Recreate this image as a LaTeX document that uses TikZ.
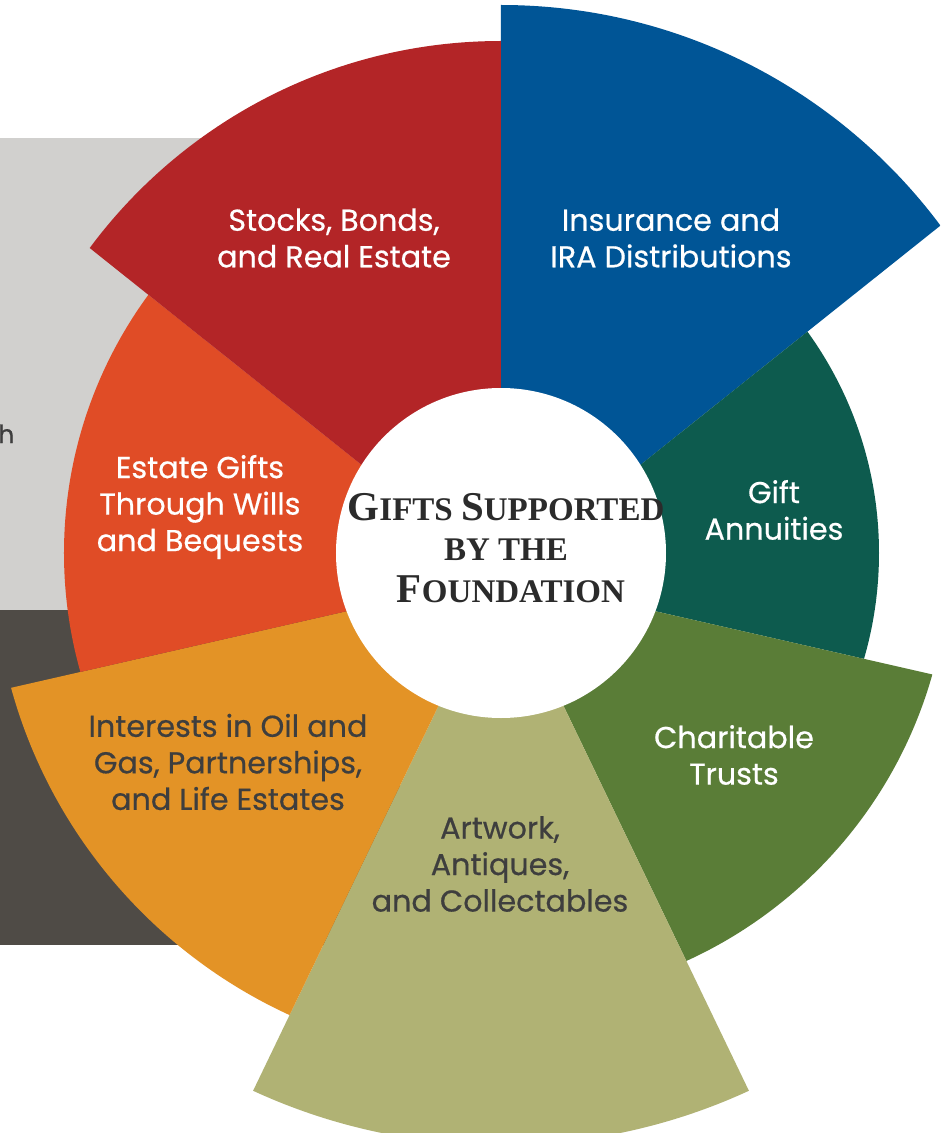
\documentclass[tikz,border=0pt]{standalone}
\usepackage{fontspec}
\setmainfont{Liberation Serif}
\newfontfamily\labelfont{Poppins}[UprightFeatures={FakeBold=0.5}]
\definecolor{cblue}{HTML}{005596}
\definecolor{cred}{HTML}{B32527}
\definecolor{cestate}{HTML}{E04C26}
\definecolor{corange}{HTML}{E39326}
\definecolor{colive}{HTML}{B0B274}
\definecolor{cgreen}{HTML}{5A7D37}
\definecolor{cdgreen}{HTML}{0D5B4E}
\definecolor{clightbg}{HTML}{D1D0CE}
\definecolor{cdarkbg}{HTML}{4F4B46}
\definecolor{ctitle}{HTML}{2B2B2B}
\definecolor{cdarktext}{HTML}{3E3E3E}
\newcommand{\gwedge}[4]{%
  \begin{scope}
    \clip (0,-23) -- +(#2:3000) -- +(#3:3000) -- cycle;
    \fill[#1] (0,0) circle[radius=#4];
  \end{scope}}
\newcommand{\tbig}{\fontsize{23.3}{26}\selectfont}
\tikzset{
  lbl/.style={align=center, inner sep=0pt, font=\labelfont\fontsize{17.2}{20.8}\selectfont},
  lblw/.style={lbl, text=white},
  lbld/.style={lbl, text=cdarktext},
  ttl/.style={anchor=base, inner sep=0pt, text=ctitle, font=\bfseries\fontsize{18.8}{22}\selectfont}
}
\begin{document}
\begin{tikzpicture}[x=0.02cm,y=0.02cm]
\useasboundingbox (-501,-580) rectangle (446,553);
\fill[white] (-501,-580) rectangle (446,553);
% background panels
\fill[clightbg] (-501,415) rectangle (-101,-57);
\fill[cdarkbg] (-501,-57) rectangle (-101,-392);
\node[anchor=base west, inner sep=0pt, text=cdarktext, font=\labelfont\fontsize{14.2}{16}\selectfont] (hfrag) at (-503,110) {h};
% wedges
\gwedge{cblue}{38.571}{90}{548}
\gwedge{cdgreen}{-12.857}{38.571}{378}
\gwedge{cgreen}{-64.286}{-12.857}{448}
\gwedge{colive}{-115.714}{-64.286}{592}
\gwedge{corange}{-167.143}{-115.714}{508}
\gwedge{cestate}{141.429}{192.857}{437}
\gwedge{cred}{90}{141.429}{512}
% centre
\fill[white] (0,0) circle[radius=165];
\node[ttl] (t1) at (5,33) {{\tbig G}IFTS {\tbig S}UPPORTED};
\node[ttl] (t2) at (5,-7) {BY THE};
\node[ttl] (t3) at (10,-49) {{\tbig F}OUNDATION};
% labels
\node[lblw] (stocks) at (-167,315) {Stocks, Bonds,\\and Real Estate};
\node[lblw] (ins) at (170,315) {Insurance and\\IRA Distributions};
\node[lblw] (annu) at (273,43) {Gift\\Annuities};
\node[lblw] (estate) at (-301,46) {Estate Gifts\\Through Wills\\and Bequests};
\node[lblw] (trusts) at (233,-202) {Charitable\\Trusts};
\node[lbld] (oil) at (-273,-209) {Interests in Oil and\\Gas, Partnerships,\\and Life Estates};
\node[lbld] (art) at (-1,-311) {Artwork,\\Antiques,\\and Collectables};
\end{tikzpicture}
\end{document}
